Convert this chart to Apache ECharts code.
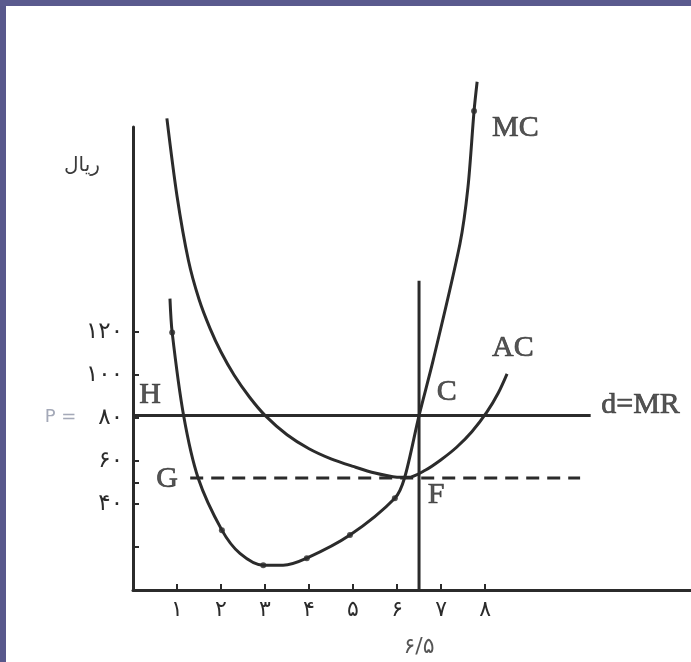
<!DOCTYPE html>
<html>
<head>
<meta charset="utf-8">
<script src="https://cdn.jsdelivr.net/npm/echarts@6/dist/echarts.min.js"></script>
<style>
html,body{margin:0;padding:0;background:#ffffff;}
#chart{position:absolute;left:0;top:0;width:691px;height:662px;}
#bl{position:absolute;left:0;top:0;width:6px;height:662px;background:#58588c;z-index:5;}
#bt{position:absolute;left:0;top:0;width:691px;height:6px;background:#5a5a8e;z-index:5;}
</style>
</head>
<body>
<div id="chart"></div>
<div id="bl"></div>
<div id="bt"></div>
<script>
// ---- data ----
const acX = [0.77, 1.0, 1.26, 1.5, 1.75, 2.0, 2.3, 2.65, 3.0, 3.5, 4.0, 4.5, 5.0, 5.5, 6.0, 6.25, 6.64, 7.0, 7.36, 7.7, 8.04, 8.3, 8.5];
const acY = [219, 183, 153, 135, 121.5, 110.5, 99.7, 89.5, 81.1, 72.1, 65.6, 60.9, 57.4, 54.3, 52.4, 52.3, 55.6, 60.5, 66.4, 73.5, 82.6, 91.5, 100.4];
const mcX = [0.84, 0.89, 1.15, 1.48, 2.02, 2.43, 2.96, 3.41, 3.95, 4.93, 5.95, 6.17, 6.5, 6.82, 7.43, 7.61, 7.75, 7.82];
const mcY = [135.3, 119.6, 81, 52, 27.8, 17, 11.5, 11.5, 14.8, 25.5, 42.6, 52, 81, 106.6, 160.8, 186.7, 222.4, 236];
const mcDotX = [0.89, 2.02, 2.96, 3.95, 4.93, 5.95, 7.75];
const mcDotY = [119.6, 27.8, 11.5, 14.8, 25.5, 42.6, 222.4];
const priceY = 81;          // d = MR level (P = 80)
const priceXEnd = 10.4;
const minAcY = 52;          // G - F dashed level
const minAcXStart = 1.3;
const minAcXEnd = 10.16;
const qStar = 6.5;          // vertical line through C and F
const qStarTop = 143.6;
const xTicks = [1, 2, 3, 4, 5, 6, 7, 8];
const yTicks = [20, 40, 50, 60, 80, 100, 120];
const yLabels = [40, 60, 80, 100, 120];
const qLabel = '۶/۵';
const yName = 'ریال';
const pointText = ['MC', 'AC', 'C', 'F', 'H', 'G', 'd=MR'];
const pointX = [8.16, 8.16, 6.9, 6.7, 0.14, 0.53, 10.64];
const pointY = [214.5, 112.1, 91.8, 44, 90.4, 51.4, 85.7];

const fa = n => String(n).replace(/[0-9]/g, d => '۰۱۲۳۴۵۶۷۸۹'[+d]);
const zip = (a, b) => a.map((v, i) => [v, b[i]]);

const ink = '#2b2b2b';
const serif = '"Liberation Serif", "DejaVu Serif", serif';

const chart = echarts.init(document.getElementById('chart'));
chart.setOption({
  backgroundColor: '#ffffff',
  animation: false,
  grid: {left: 133, right: 0, top: 127, bottom: 72, containLabel: false, outerBoundsMode: 'none'},
  xAxis: {
    type: 'value', min: 0, max: 12.68,
    splitLine: {show: false},
    axisLine: {show: true, onZero: false, lineStyle: {color: ink, width: 3}},
    axisTick: {show: true, inside: true, length: 6, customValues: xTicks, lineStyle: {color: ink, width: 2}},
    axisLabel: {show: true, customValues: xTicks, formatter: v => fa(v), margin: 9,
      color: ink, fontFamily: '"DejaVu Sans"', fontSize: 22}
  },
  yAxis: {
    type: 'value', min: 0, max: 215,
    splitLine: {show: false},
    axisLine: {show: true, onZero: false, lineStyle: {color: ink, width: 3}},
    axisTick: {show: true, inside: true, length: 6, customValues: yTicks, lineStyle: {color: ink, width: 2}},
    axisLabel: {show: true, customValues: yLabels, margin: 10,
      formatter: v => v === 80 ? '{p|P =}{n|' + fa(v) + '}' : '{n|' + fa(v) + '}',
      rich: {
        n: {color: ink, fontFamily: '"DejaVu Sans"', fontSize: 23},
        p: {color: '#a4a9b8', fontFamily: '"DejaVu Sans"', fontSize: 18, padding: [0, 22, 0, 0]}
      }
    }
  },
  graphic: [{
    type: 'text', left: 64, top: 156,
    style: {text: yName, fill: '#3a3a3a', font: '20px "DejaVu Sans"'}
  }],
  series: [
    {type: 'line', data: zip(acX, acY), smooth: 0.3, showSymbol: false, clip: false,
      lineStyle: {color: ink, width: 3}},
    {type: 'line', data: zip(mcX, mcY), smooth: 0.3, showSymbol: false, clip: false,
      lineStyle: {color: ink, width: 3}},
    {type: 'scatter', data: zip(mcDotX, mcDotY), symbolSize: 6, clip: false, itemStyle: {color: ink}},
    {type: 'line', data: [[0, priceY], [priceXEnd, priceY]], showSymbol: false, lineStyle: {color: ink, width: 3}},
    {type: 'line', data: [[minAcXStart, minAcY], [minAcXEnd, minAcY]], showSymbol: false,
      lineStyle: {color: ink, width: 3, type: [13, 8]}},
    {type: 'line', data: [[qStar, 0], [qStar, qStarTop]], showSymbol: false, lineStyle: {color: ink, width: 3}},
    {type: 'scatter', data: pointText.map((t, i) => ({value: [pointX[i], pointY[i]], name: t})),
      symbolSize: 0, clip: false,
      label: {show: true, position: 'right', distance: 0, formatter: p => p.name,
        color: ink, fontFamily: serif, fontSize: 30, textBorderColor: ink, textBorderWidth: 0.7}},
    {type: 'scatter', data: [{value: [qStar, 0], name: qLabel}], symbolSize: 0, clip: false,
      label: {show: true, position: 'bottom', distance: 0, offset: [0, 46], formatter: p => p.name,
        color: ink, fontFamily: '"DejaVu Sans"', fontSize: 22}}
  ]
});
</script>
</body>
</html>
